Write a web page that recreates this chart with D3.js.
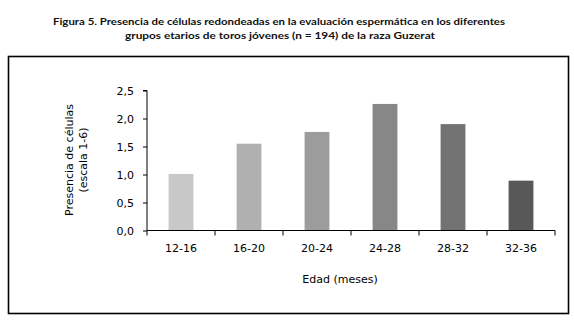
<!DOCTYPE html>
<html><head><meta charset="utf-8">
<script src="https://cdn.jsdelivr.net/npm/d3@7"></script>
<style>body{margin:0;background:#fff}svg{display:block}</style>
</head><body>
<script>
const categories = ["12-16","16-20","20-24","24-28","28-32","32-36"];
const values = [1.01, 1.55, 1.76, 2.26, 1.90, 0.89];
const barColors = ["#c8c8c8","#b0b0b0","#9c9c9c","#878787","#727272","#585858"];
const yTicks = [0, 0.5, 1.0, 1.5, 2.0, 2.5];
const titleLines = ["Figura 5. Presencia de células redondeadas en la evaluación espermática en los diferentes",
                    "grupos etarios de toros jóvenes  (n = 194) de la raza Guzerat"];
const yLabelLines = ["Presencia de células", "(escala 1-6)"];
const xLabel = "Edad (meses)";

const W = 574, H = 328;
const svg = d3.select("body").append("svg").attr("width", W).attr("height", H);

// title
const tfont = "'Century Gothic','URW Gothic','Lato','Open Sans',sans-serif";
svg.append("text").attr("x", 279).attr("y", 25).attr("text-anchor","middle")
  .attr("font-family", tfont).attr("font-weight","bold").attr("font-size", 10.3).attr("fill","#111")
  .attr("textLength", 452).attr("lengthAdjust","spacingAndGlyphs")
  .text(titleLines[0]);
svg.append("text").attr("x", 280).attr("y", 39).attr("text-anchor","middle")
  .attr("font-family", tfont).attr("font-weight","bold").attr("font-size", 10.3).attr("fill","#111")
  .attr("textLength", 310).attr("lengthAdjust","spacingAndGlyphs")
  .text(titleLines[1]);

// frame
svg.append("rect").attr("x", 8.5).attr("y", 56.5).attr("width", 560).attr("height", 257)
  .attr("fill","none").attr("stroke","#000").attr("stroke-width", 1.6);

const x0 = 147, x1 = 555, yTop = 90.5, yBot = 230.5;
const x = d3.scaleBand().domain(categories).range([x0, x1]).padding(0);
const y = d3.scaleLinear().domain([0, 2.5]).range([yBot, yTop]);
const font = "'DejaVu Sans', Verdana, sans-serif";

// bars
const bw = x.bandwidth() * 0.365;
svg.selectAll("rect.bar").data(values).enter().append("rect").attr("class","bar")
  .attr("x", (d,i) => x(categories[i]) + x.bandwidth()/2 - bw/2)
  .attr("y", d => y(d))
  .attr("width", bw)
  .attr("height", d => yBot - y(d))
  .attr("fill", (d,i) => barColors[i]);

// y axis
const yAxis = svg.append("g").attr("transform", `translate(${x0},0)`)
  .call(d3.axisLeft(y).tickValues(yTicks).tickSize(4).tickPadding(9)
    .tickFormat(d => d3.format(".1f")(d).replace(".", ",")));
yAxis.select(".domain").attr("stroke","#000").attr("d", `M-4,${yTop}H0V${yBot}`);
yAxis.selectAll("text").attr("font-family", font).attr("font-size", 11).attr("fill","#000");
yAxis.selectAll("line").attr("stroke","#000");

// x axis with ticks at category boundaries
const xAxisG = svg.append("g").attr("transform", `translate(0,${yBot})`);
xAxisG.append("line").attr("x1", x0).attr("x2", x1).attr("stroke","#000");
const bounds = categories.map(c => x(c)).concat([x1]);
xAxisG.selectAll("line.tk").data(bounds).enter().append("line").attr("class","tk")
  .attr("x1", d => d).attr("x2", d => d).attr("y1", 0).attr("y2", 5).attr("stroke","#000");
xAxisG.selectAll("text").data(categories).enter().append("text")
  .attr("x", d => x(d) + x.bandwidth()/2).attr("y", 21).attr("text-anchor","middle")
  .attr("font-family", font).attr("font-size", 11).attr("fill","#000").text(d => d);

// axis titles
svg.append("text").attr("x", 340).attr("y", 283).attr("text-anchor","middle")
  .attr("font-family", font).attr("font-size", 11).attr("fill","#000").text(xLabel);
const yl = svg.append("text").attr("transform", "translate(76,160) rotate(-90)")
  .attr("text-anchor","middle").attr("font-family", font).attr("font-size", 11).attr("fill","#000");
yl.append("tspan").attr("x", 0).attr("dy", -3).text(yLabelLines[0]);
yl.append("tspan").attr("x", 0).attr("dy", 14).text(yLabelLines[1]);
</script>
</body></html>
